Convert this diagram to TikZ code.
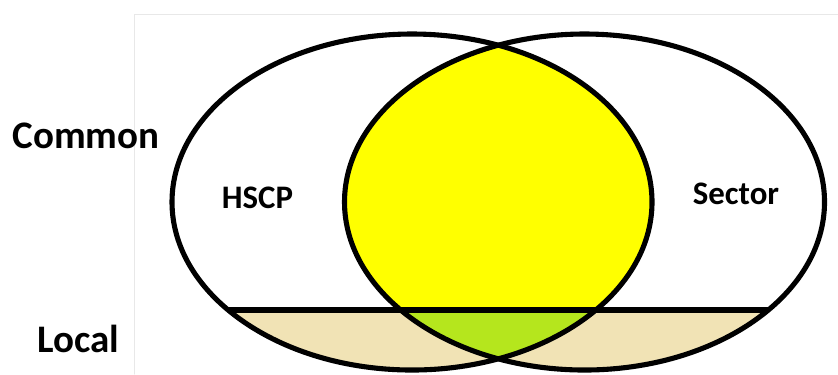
\documentclass[tikz,border=0pt]{standalone}
\usepackage{fontspec}
\setmainfont{Carlito}
\usepackage{tikz}
\usepackage{xcolor}
\definecolor{vennyellow}{RGB}{255,255,0}
\definecolor{venntan}{RGB}{241,227,181}
\definecolor{venngreen}{RGB}{181,230,29}
\definecolor{frame}{RGB}{232,232,232}

\begin{document}
\begin{tikzpicture}[line cap=round,
  rowlabel/.style={font=\bfseries\fontsize{11.1}{13}\selectfont,anchor=base},
  setlabel/.style={font=\bfseries\fontsize{9.35}{11}\selectfont,anchor=base}]
\useasboundingbox (0,0) rectangle (8.38,3.74);
\draw[frame,line width=0.4pt] (1.345,0) -- (1.345,3.595) -- (8.38,3.595);
\begin{scope}
\clip (4.12,1.72) ellipse (2.40 and 1.68);
\fill[vennyellow] (5.845,1.72) ellipse (2.40 and 1.68);
\end{scope}
\begin{scope}
\clip (0,0) rectangle (8.38,0.64);
\fill[venntan] (4.12,1.72) ellipse (2.40 and 1.68);
\fill[venntan] (5.845,1.72) ellipse (2.40 and 1.68);
\clip (4.12,1.72) ellipse (2.40 and 1.68);
\fill[venngreen] (5.845,1.72) ellipse (2.40 and 1.68);
\end{scope}
\draw[line width=1.45pt] (4.12,1.72) ellipse (2.40 and 1.68);
\draw[line width=1.45pt] (5.845,1.72) ellipse (2.40 and 1.68);
\coordinate (lineL) at (2.282,0.64);
\coordinate (lineR) at (7.683,0.64);
\draw[line width=1.75pt,line cap=butt] (lineL) -- (lineR);
\node[rowlabel] (common) at (0.86,2.26) {Common};
\node[rowlabel] (local) at (0.78,0.22) {Local};
\node[setlabel] (hscp) at (2.575,1.66) {HSCP};
\node[setlabel] (sector) at (7.36,1.70) {Sector};
\end{tikzpicture}
\end{document}
